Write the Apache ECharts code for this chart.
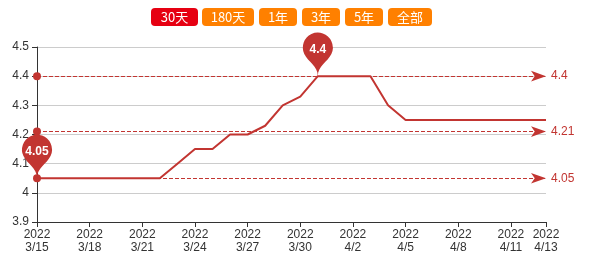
<!DOCTYPE html>
<html><head><meta charset="utf-8">
<script src="https://cdn.jsdelivr.net/npm/echarts@6/dist/echarts.min.js"></script>
<style>html,body{margin:0;padding:0;background:#fff}#c{width:589px;height:257px}</style>
</head><body><div id="c"></div>
<script>
var dates = ['3/15','3/16','3/17','3/18','3/19','3/20','3/21','3/22','3/23','3/24','3/25','3/26','3/27','3/28','3/29','3/30','3/31','4/1','4/2','4/3','4/4','4/5','4/6','4/7','4/8','4/9','4/10','4/11','4/12','4/13'];
var year = '2022';
var values = [4.05,4.05,4.05,4.05,4.05,4.05,4.05,4.05,4.10,4.15,4.15,4.20,4.20,4.23,4.30,4.33,4.40,4.40,4.40,4.40,4.30,4.25,4.25,4.25,4.25,4.25,4.25,4.25,4.25,4.25];
var buttons = ['30天','180天','1年','3年','5年','全部'];
var btnX = [151,202,259,302,345,388];
var btnW = [47,52,38,38,38,44];

var chart = echarts.init(document.getElementById('c'));
var last = dates.length - 1;
var showIdx = function(i){ return i % 3 === 0 || i === last; };
var graphics = buttons.map(function(t, i){
  return {
    type: 'group', left: btnX[i], top: 8,
    children: [
      {type:'rect', shape:{x:0,y:0,width:btnW[i],height:18,r:4}, style:{fill: i===0 ? '#e60012' : '#ff8000'}},
      {type:'text', style:{text:t, x:btnW[i]/2, y:9, align:'center', verticalAlign:'middle', fill:'#fff', font:'13px "Microsoft YaHei","Noto Sans CJK SC",sans-serif'}}
    ]
  };
});
chart.setOption({
  animation:false,
  color:['#c23531'],
  graphic: graphics,
  grid:{left:37,right:43,top:47,bottom:35},
  xAxis:{
    type:'category', boundaryGap:false,
    data: dates.map(function(d){ return year + '\n' + d; }),
    axisLine:{lineStyle:{color:'#333'}},
    axisTick:{interval:function(i){return showIdx(i);}, lineStyle:{color:'#333'}},
    axisLabel:{interval:function(i){return showIdx(i);}, color:'#333', fontSize:12, lineHeight:13, margin:6}
  },
  yAxis:{
    type:'value', min:3.9, max:4.5, interval:0.1,
    axisLine:{show:true, lineStyle:{color:'#333'}},
    axisTick:{show:true, lineStyle:{color:'#333'}},
    axisLabel:{color:'#333', fontSize:12},
    splitLine:{lineStyle:{color:'#ccc'}}
  },
  series:[{
    type:'line', data: values, symbol:'none',
    lineStyle:{width:2, color:'#c23531'},
    markPoint:{
      symbol:'pin', symbolSize:50,
      itemStyle:{color:'#c23531'},
      label:{color:'#fff', fontWeight:'bold', fontSize:12},
      data:[{type:'max'},{type:'min'}]
    },
    markLine:{
      symbol:['circle','arrow'], symbolSize:[8,15],
      lineStyle:{color:'#c23531', type:'dashed', width:1},
      label:{position:'end', color:'#c23531', fontSize:12},
      data:[{type:'max'},{type:'average'},{type:'min'}],
      precision:2
    }
  }]
});
</script></body></html>
